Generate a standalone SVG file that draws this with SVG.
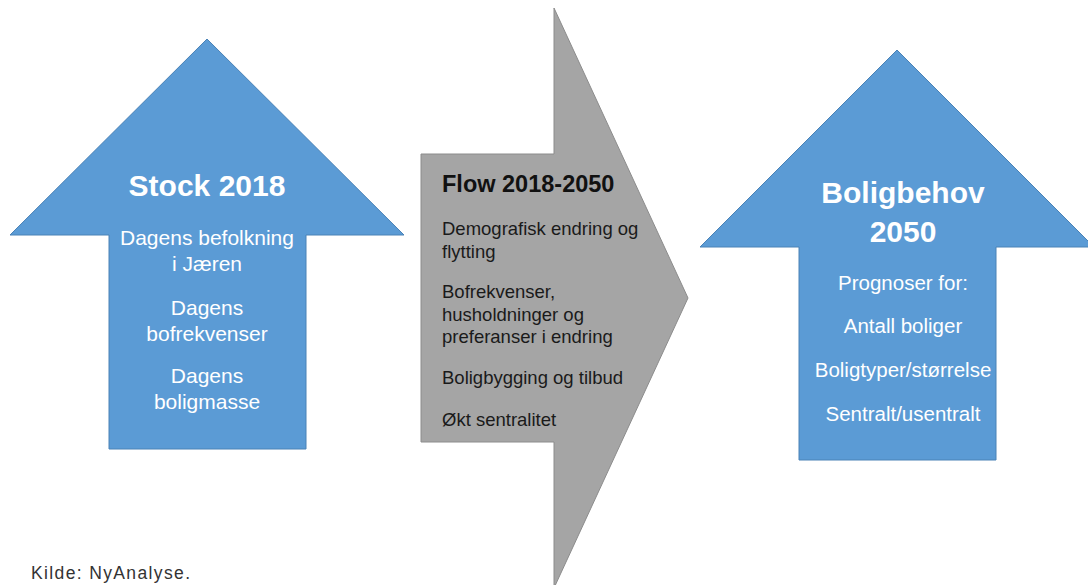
<svg xmlns="http://www.w3.org/2000/svg" width="1088" height="585" viewBox="0 0 1088 585">
<style>
.blue{fill:#5B9BD5;stroke:#4A82B6;stroke-width:1}
.gray{fill:#A5A5A5;stroke:#8C8C8C;stroke-width:1}
text{font-family:"Liberation Sans",Arial,sans-serif}
.wh{fill:#FFFFFF;text-anchor:middle}
.hd{font-weight:bold;font-size:30px}
.bl{font-size:21px}
.br{font-size:20.5px}
.gh{fill:#111111;font-weight:bold;font-size:23.5px}
.gb{fill:#1a1a1a;font-size:18.5px}
.src{fill:#333333;font-size:17.5px}
</style>
<rect width="1088" height="585" fill="#FFFFFF"/>
<g id="stock">
<path class="blue" d="M207,39 L404,235 L306,235 L306,449 L109,449 L109,235 L10,235 Z"/>
<text class="wh hd" x="207" y="196">Stock 2018</text>
<text class="wh bl" x="207" y="245">Dagens befolkning</text>
<text class="wh bl" x="207" y="270.5">i Jæren</text>
<text class="wh bl" x="207" y="315">Dagens</text>
<text class="wh bl" x="207" y="341">bofrekvenser</text>
<text class="wh bl" x="207" y="383">Dagens</text>
<text class="wh bl" x="207" y="409">boligmasse</text>
</g>
<g id="flow">
<path class="gray" d="M421,154 L554,154 L554,8 L688,298 L554,588 L554,442 L421,442 Z"/>
<text class="gh" x="442" y="192">Flow 2018-2050</text>
<text class="gb" x="442" y="235">Demografisk endring og</text>
<text class="gb" x="442" y="258">flytting</text>
<text class="gb" x="442" y="298">Bofrekvenser,</text>
<text class="gb" x="442" y="321">husholdninger og</text>
<text class="gb" x="442" y="343">preferanser i endring</text>
<text class="gb" x="442" y="384">Boligbygging og tilbud</text>
<text class="gb" x="442" y="426">Økt sentralitet</text>
</g>
<g id="boligbehov">
<path class="blue" d="M897,50 L1094,247 L996,247 L996,460 L799,460 L799,247 L700,247 Z"/>
<text class="wh hd" x="903" y="203">Boligbehov</text>
<text class="wh hd" x="903" y="242">2050</text>
<text class="wh br" x="903" y="290">Prognoser for:</text>
<text class="wh br" x="903" y="333">Antall boliger</text>
<text class="wh br" x="903" y="377">Boligtyper/størrelse</text>
<text class="wh br" x="903" y="421">Sentralt/usentralt</text>
</g>
<g id="connectors"></g>
<text class="src" x="31" y="579" textLength="159" lengthAdjust="spacing">Kilde: NyAnalyse.</text>
</svg>
